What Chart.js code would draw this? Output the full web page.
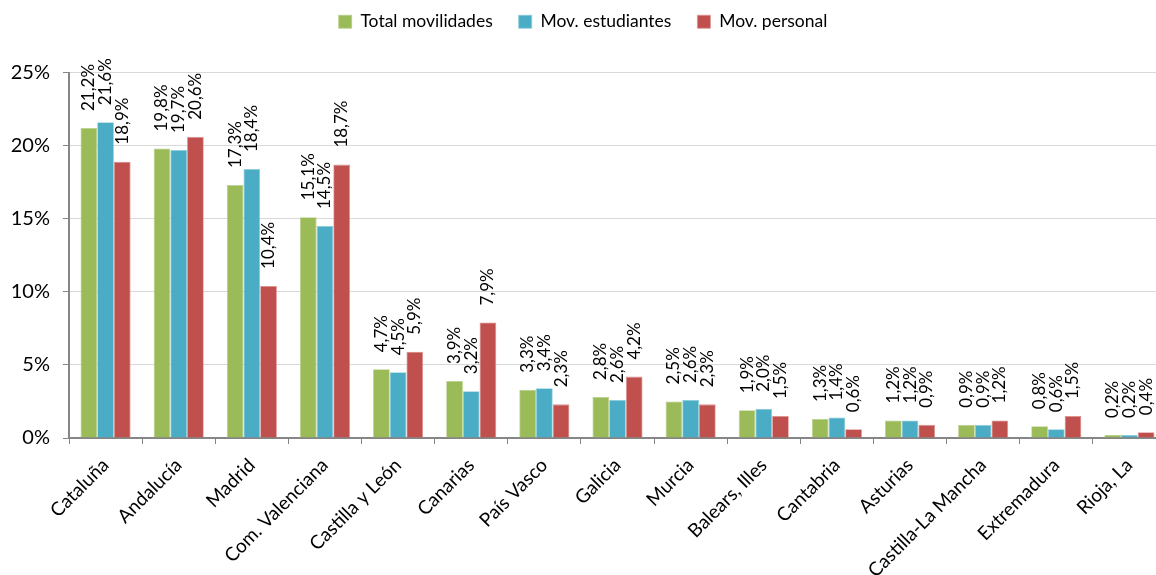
<!DOCTYPE html>
<html>
<head>
<meta charset="utf-8">
<script src="https://cdn.jsdelivr.net/npm/chart.js@4.4.1/dist/chart.umd.min.js"></script>
<style>
html,body{margin:0;padding:0;background:#fff;overflow:hidden;}
#wrap{width:1170px;height:575px;position:relative;}
</style>
</head>
<body>
<div id="wrap"><canvas id="c" width="1170" height="575"></canvas></div>
<script>
const categories = ["Cataluña","Andalucía","Madrid","Com. Valenciana","Castilla y León","Canarias","País Vasco","Galicia","Murcia","Balears, Illes","Cantabria","Asturias","Castilla-La Mancha","Extremadura","Rioja, La"];
const totalMovilidades = [21.2,19.8,17.3,15.1,4.7,3.9,3.3,2.8,2.5,1.9,1.3,1.2,0.9,0.8,0.2];
const movEstudiantes = [21.6,19.7,18.4,14.5,4.5,3.2,3.4,2.6,2.6,2.0,1.4,1.2,0.9,0.6,0.2];
const movPersonal = [18.9,20.6,10.4,18.7,5.9,7.9,2.3,4.2,2.3,1.5,0.6,0.9,1.2,1.5,0.4];
const seriesNames = ["Total movilidades","Mov. estudiantes","Mov. personal"];
const yTicks = [0,5,10,15,20,25];

const FONT = "Lato, 'Open Sans', sans-serif";

const legendSpacer = {
  id: 'legendSpacer',
  beforeInit(chart) {
    const orig = chart.legend.fit;
    chart.legend.fit = function() {
      orig.call(this);
      this.height += 32;
    };
  }
};

const labelPlugin = {
  id: 'barLabels',
  afterDatasetsDraw(chart) {
    const ctx = chart.ctx;
    ctx.save();
    ctx.font = "17px " + FONT;
    ctx.fillStyle = "#000";
    ctx.textAlign = "left";
    ctx.textBaseline = "middle";
    chart.data.datasets.forEach((ds, di) => {
      const meta = chart.getDatasetMeta(di);
      meta.data.forEach((bar, i) => {
        const txt = ds.data[i].toFixed(1).replace('.', ',') + '%';
        ctx.save();
        ctx.translate(bar.x, bar.y - 17);
        ctx.rotate(-Math.PI / 2);
        ctx.fillText(txt, 0, 0);
        ctx.restore();
      });
    });
    ctx.restore();
  }
};

new Chart(document.getElementById('c'), {
  type: 'bar',
  data: {
    labels: categories,
    datasets: [
      {label: seriesNames[0], data: totalMovilidades, backgroundColor: '#9BBB59', borderColor: '#B8CF8A', borderWidth: 0.8},
      {label: seriesNames[1], data: movEstudiantes, backgroundColor: '#4BACC6', borderColor: '#8CCCDC', borderWidth: 0.8},
      {label: seriesNames[2], data: movPersonal, backgroundColor: '#C0504D', borderColor: '#DC9290', borderWidth: 0.8}
    ]
  },
  options: {
    responsive: false,
    animation: false,
    devicePixelRatio: 1,
    layout: {padding: {left: 0, right: 4, top: -13, bottom: 0}},
    datasets: {bar: {categoryPercentage: 0.685, barPercentage: 1.0}},
    plugins: {
      tooltip: {enabled: false},
      legend: {
        position: 'top',
        align: 'center',
        labels: {
          font: {family: FONT, size: 17.5},
          color: '#000',
          boxWidth: 13,
          boxHeight: 13,
          padding: 26
        }
      }
    },
    scales: {
      x: {
        offset: true,
        grid: {display: true, offset: true, drawOnChartArea: false, drawTicks: true, tickLength: 6, color: '#868686'},
        border: {display: true, color: '#868686', width: 2},
        ticks: {font: {family: FONT, size: 19}, color: '#000', maxRotation: 45, minRotation: 45, autoSkip: false, padding: 10},
        afterFit: s => { s.height = 137; }
      },
      y: {
        min: 0, max: 25,
        afterBuildTicks: s => { s.ticks = yTicks.map(v => ({value: v})); },
        grid: {color: '#D9D9D9', lineWidth: 1, drawTicks: true, tickLength: 6, tickColor: '#868686'},
        border: {display: true, color: '#868686', width: 2},
        ticks: {font: {family: FONT, size: 20}, color: '#000', padding: 13, callback: v => v + '%'},
        afterFit: s => { s.width = 69; }
      }
    }
  },
  plugins: [legendSpacer, labelPlugin]
});
</script>
</body>
</html>
